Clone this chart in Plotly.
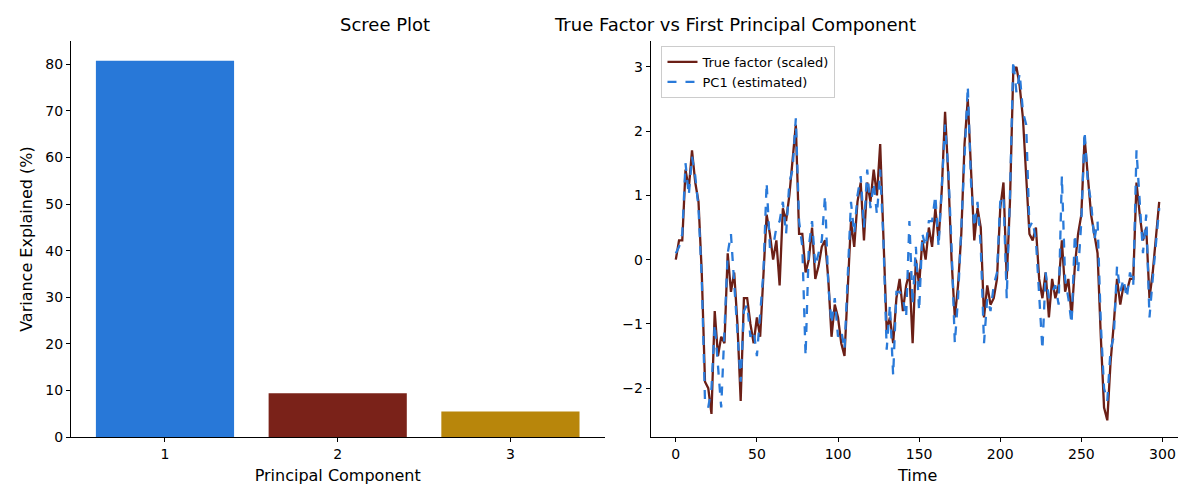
import plotly.graph_objects as go

components = [1, 2, 3]
variance_pct = [80.8, 9.4, 5.5]
bar_colors = ["#2878d8", "#7a2219", "#b8860b"]

time = list(range(0, 300, 2))
true_factor = [
    0.0, 0.3, 0.3, 1.4, 1.1, 1.7, 1.2, 0.9, -0.2, -1.9,
    -2.0, -2.4, -0.8, -1.5, -1.2, -1.3, 0.1, -0.5, -0.2, -1.0,
    -2.2, -0.6, -0.6, -1.0, -1.3, -0.9, -1.2, -0.3, 0.7, 0.4,
    0.0, 0.3, -0.4, 0.8, 0.6, 1.0, 1.5, 2.1, 0.4, 0.4,
    -0.2, 0.0, 0.5, -0.3, -0.1, 0.2, 0.3, -0.3, -1.2, -0.7,
    -0.9, -1.3, -1.5, -0.5, 0.6, 0.2, 0.9, 1.2, 0.3, 1.2,
    0.9, 1.4, 1.0, 1.8, 0.5, -1.1, -0.9, -1.3, -0.6, -0.3,
    -0.8, -0.4, -0.2, -1.3, 0.0, -0.4, 0.3, 0.0, 0.5, 0.2,
    0.8, 0.3, 1.1, 2.3, 1.3, 0.0, -0.9, -0.4, 0.4, 1.8,
    2.5, 1.5, 0.3, 0.8, 0.5, -0.9, -0.4, -0.7, -0.6, -0.3,
    0.8, 1.2, -0.3, 0.9, 2.9, 3.0, 2.7, 2.2, 1.3, 0.4,
    0.3, 0.5, -0.3, -0.6, -0.2, -0.9, -0.3, -0.6, -0.4, 0.3,
    -0.5, -0.3, -0.9, -0.1, 0.4, 0.7, 1.9, 1.3, 0.7, 0.4,
    0.1, -1.2, -2.3, -2.5, -1.6, -1.0, -0.3, -0.7, -0.4, -0.5,
    -0.3, -0.3, 1.2, 0.7, 0.3, 0.5, -0.6, -0.2, 0.3, 0.9,
]
pc1 = [
    0.1, 0.2, 0.4, 1.5, 1.0, 1.6, 1.3, 0.8, -0.3, -2.2,
    -2.3, -2.0, -1.0, -1.6, -2.3, -1.1, 0.1, 0.4, -0.4, -1.2,
    -1.9, -0.8, -0.7, -1.2, -1.1, -1.5, -0.8, -0.2, 1.2, 0.2,
    0.2, 0.5, 0.6, 0.9, 0.4, 1.2, 1.4, 2.2, 0.6, 0.2,
    -1.5, 0.2, 0.6, -0.1, 0.1, 0.3, 1.0, -0.4, -1.0, -0.6,
    -1.2, -1.1, -1.4, -0.3, 0.9, 0.4, 1.0, 1.3, 0.5, 1.4,
    0.8, 1.2, 0.7, 1.4, 0.3, -1.4, -0.7, -1.8, -0.5, -0.5,
    -0.6, -0.9, 0.6, -0.7, 0.2, -0.8, 0.4, 0.2, 0.6, 0.6,
    1.0, 0.2, 1.2, 2.1, 1.4, 0.2, -1.3, -0.6, 0.5, 1.6,
    2.7, 1.2, 0.5, 0.9, 0.2, -1.3, -0.6, -0.8, -0.4, -0.2,
    0.9, 1.0, -0.6, 1.0, 3.1, 2.6, 2.9, 2.3, 2.1, 0.5,
    0.6, 0.3, -0.5, -1.4, -0.2, -0.6, -0.5, -0.4, -0.7, 1.3,
    -0.3, -0.6, -1.0, 0.4, -0.2, 0.6, 2.0, 1.2, 0.9, 0.3,
    0.6, -1.0, -2.0, -2.2, -1.4, -1.2, -0.1, -0.5, -0.3, -0.6,
    -0.2, -0.4, 1.7, 0.8, 0.1, 0.7, -0.9, -0.3, 0.2, 0.8,
]

axis_style = dict(showline=True, linecolor="black", linewidth=1, ticks="outside",
                  ticklen=4, tickcolor="black", showgrid=False, zeroline=False,
                  tickfont=dict(size=14, color="black"), title_font=dict(size=16, color="black"),
                  mirror=False, automargin=False)

fig = go.Figure()
fig.add_trace(go.Bar(x=components, y=variance_pct, marker_color=bar_colors, width=0.8,
                     marker_line_width=0, showlegend=False, xaxis="x", yaxis="y"))
fig.add_trace(go.Scatter(x=time, y=true_factor, mode="lines", name="True factor (scaled)",
                         line=dict(color="#6b1f16", width=2.3), xaxis="x2", yaxis="y2"))
fig.add_trace(go.Scatter(x=time, y=pc1, mode="lines", name="PC1 (estimated)",
                         line=dict(color="#2a7ad9", width=2.3, dash="dash"), xaxis="x2", yaxis="y2"))

fig.update_layout(
    width=1186, height=487,
    margin=dict(l=0, r=0, t=0, b=0),
    plot_bgcolor="white", paper_bgcolor="white",
    font=dict(family="DejaVu Sans", color="black"),
    xaxis=dict(domain=[0.053, 0.503], range=[0.455, 3.545], tickvals=components,
               title_text="Principal Component", title_standoff=8, anchor="y", **axis_style),
    yaxis=dict(domain=[0.119, 0.932], range=[0, 85], dtick=10,
               title_text="Variance Explained (%)", title_standoff=8, anchor="x", **axis_style),
    xaxis2=dict(domain=[0.542, 0.992], range=[-15.4, 313.6], dtick=50,
                title_text="Time", title_standoff=8, anchor="y2", **axis_style),
    yaxis2=dict(domain=[0.119, 0.932], range=[-2.76, 3.4], dtick=1,
                anchor="x2", **axis_style),
    legend=dict(x=0.551, y=0.922, xanchor="left", yanchor="top", bgcolor="white",
                bordercolor="#cccccc", borderwidth=1, font=dict(size=13)),
    annotations=[
        dict(text="Scree Plot", x=0.278, y=0.94, xref="paper", yref="paper",
             showarrow=False, yanchor="bottom", font=dict(size=18)),
        dict(text="True Factor vs First Principal Component", x=0.767, y=0.94,
             xref="paper", yref="paper", showarrow=False, yanchor="bottom", font=dict(size=18)),
    ],
)

fig.write_html("out.html")
